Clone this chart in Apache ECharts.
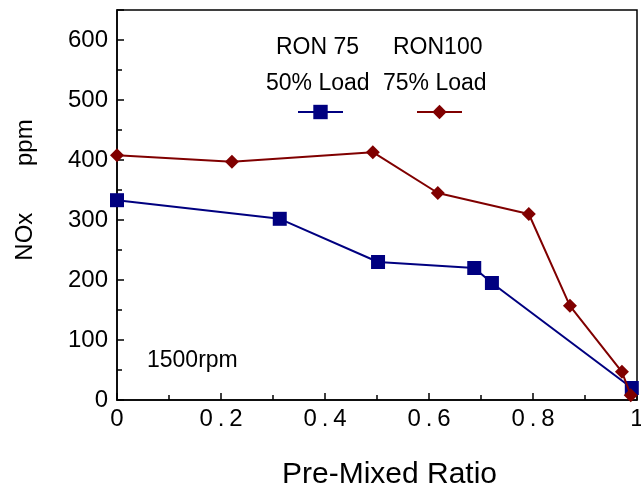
<!DOCTYPE html>
<html><head><meta charset="utf-8">
<script src="https://cdn.jsdelivr.net/npm/echarts@6/dist/echarts.min.js"></script>
<style>html,body{margin:0;padding:0;background:#fff}#c{width:641px;height:491px}</style>
</head><body><div id="c"></div>
<script>
var ron75X = [0, 0.313, 0.502, 0.687, 0.721, 0.99];
var ron75Y = [333, 302, 230, 220, 195, 20];
var ron100X = [0, 0.221, 0.492, 0.617, 0.792, 0.871, 0.971, 0.988];
var ron100Y = [408, 397, 413, 345, 310, 157, 47, 8];
var seriesNames = ['RON 75 50% Load', 'RON100 75% Load'];
var xTicks = [0, 0.2, 0.4, 0.6, 0.8, 1];
var yTicks = [0, 100, 200, 300, 400, 500, 600];

function pairs(xs, ys){ return xs.map(function(x,i){return [x, ys[i]];}); }
var font = 'Liberation Sans, Arial, sans-serif';
var chart = echarts.init(document.getElementById('c'), null, {renderer:'canvas'});
chart.setOption({
  animation: false,
  backgroundColor: '#fff',
  grid: {left:117, top:10, width:520, height:390, show:true, borderColor:'#000', borderWidth:1.5, backgroundColor:'transparent', containLabel:false, outerBoundsMode:'none'},
  xAxis: {
    type:'value', min:0, max:1, interval:0.2,
    name:'Pre-Mixed Ratio', nameLocation:'middle', nameGap:60,
    nameTextStyle:{fontFamily:font, fontSize:30, color:'#000', padding:[0,0,0,25]},
    axisLine:{lineStyle:{color:'#000', width:1.5}},
    axisTick:{inside:true, length:7, lineStyle:{color:'#000', width:1.5}},
    minorTick:{show:true, splitNumber:2, length:5, lineStyle:{color:'#000', width:1.5}},
    splitLine:{show:false},
    axisLabel:{fontFamily:font, fontSize:24, color:'#000', margin:7,
      formatter:function(v){ var i = xTicks.indexOf(Math.round(v*10)/10); return i>=0 ? String(xTicks[i]).split('').join('\u2009') : ''; }}
  },
  yAxis: {
    type:'value', min:0, max:650, interval:100,
    name:'NOx       ppm', nameLocation:'middle', nameGap:80, nameRotate:90,
    nameTextStyle:{fontFamily:font, fontSize:24, color:'#000', padding:[0,0,0,30]},
    axisLine:{lineStyle:{color:'#000', width:1.5}},
    axisTick:{inside:true, length:7, lineStyle:{color:'#000', width:1.5}},
    minorTick:{show:true, splitNumber:2, length:5, lineStyle:{color:'#000', width:1.5}},
    splitLine:{show:false},
    axisLabel:{fontFamily:font, fontSize:24, color:'#000', margin:9,
      formatter:function(v){ return yTicks.indexOf(v)>=0 ? String(v) : ''; }}
  },
  legend: [
    {data:[seriesNames[0]], left:297, top:103, itemWidth:45, itemHeight:18, formatter:function(){return '';}, itemGap:0, padding:0, selectedMode:false},
    {data:[seriesNames[1]], left:416, top:103, itemWidth:45, itemHeight:18, formatter:function(){return '';}, itemGap:0, padding:0, selectedMode:false}
  ],
  graphic: [
    {type:'text', x:276, y:48, style:{text:'RON 75', font:'23px '+font, fill:'#000', verticalAlign:'middle'}},
    {type:'text', x:393, y:48, style:{text:'RON100', font:'23px '+font, fill:'#000', verticalAlign:'middle'}},
    {type:'text', x:266, y:84, style:{text:'50% Load', font:'23px '+font, fill:'#000', verticalAlign:'middle'}},
    {type:'text', x:383, y:84, style:{text:'75% Load', font:'23px '+font, fill:'#000', verticalAlign:'middle'}},
    {type:'text', x:147, y:361, style:{text:'1500rpm', font:'23px '+font, fill:'#000', verticalAlign:'middle'}}
  ],
  series: [
    {name:seriesNames[0], type:'line', data:pairs(ron75X, ron75Y), symbol:'rect', symbolSize:14,
     itemStyle:{color:'#000080'}, lineStyle:{color:'#000080', width:2}, z:3},
    {name:seriesNames[1], type:'line', data:pairs(ron100X, ron100Y), symbol:'diamond', symbolSize:[14,14],
     itemStyle:{color:'#800000'}, lineStyle:{color:'#800000', width:2}, z:4}
  ]
});
</script></body></html>
